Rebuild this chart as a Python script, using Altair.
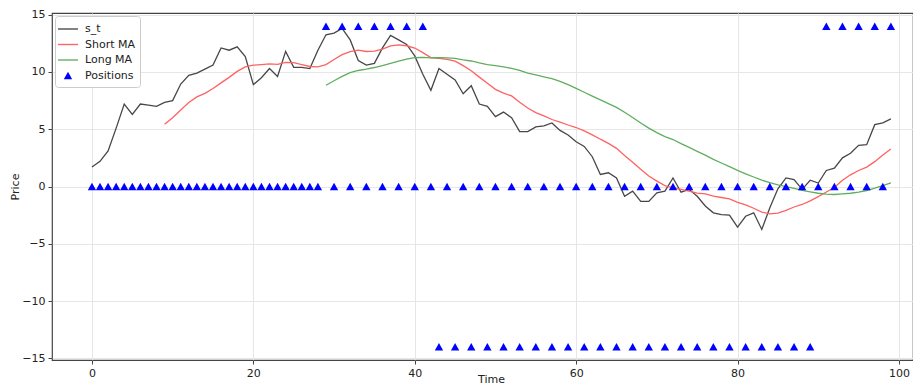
import altair as alt
import pandas as pd

time = list(range(100))

s_t = [1.7, 2.2, 3.1, 5.1, 7.2, 6.3, 7.2, 7.1, 7.0, 7.35,
       7.5, 8.95, 9.7, 9.9, 10.25, 10.6, 12.1, 11.9, 12.2, 11.35,
       8.9, 9.5, 10.3, 9.6, 11.8, 10.4, 10.4, 10.3, 11.9, 13.25,
       13.4, 13.8, 12.8, 11.0, 10.6, 10.75, 12.1, 13.2, 12.8, 12.4,
       11.4, 9.8, 8.4, 10.3, 9.8, 9.3, 8.1, 8.8, 7.2, 7.0,
       6.1, 6.5, 6.0, 4.8, 4.8, 5.2, 5.3, 5.55, 4.9, 4.5,
       3.9, 3.5, 2.6, 1.05, 1.2, 0.75, -0.85, -0.4, -1.3, -1.3,
       -0.55, -0.4, 0.75, -0.5, -0.25, -0.85, -1.7, -2.3, -2.45, -2.5,
       -3.55, -2.6, -2.3, -3.75, -1.85, -0.2, 0.75, 0.6, -0.25, 0.55,
       0.3, 1.4, 1.6, 2.5, 2.9, 3.6, 3.65, 5.4, 5.55, 5.9]

short_ma = [None] * 9 + [
    5.43, 6.01, 6.68, 7.34, 7.82, 8.13, 8.56, 9.05, 9.53, 10.05, 10.45,
    10.59, 10.64, 10.70, 10.67, 10.83, 10.81, 10.64, 10.48, 10.45, 10.64,
    11.09, 11.52, 11.77, 11.91, 11.79, 11.82, 11.99, 12.28, 12.37, 12.29,
    12.09, 11.69, 11.25, 11.18, 11.10, 10.95, 10.55, 10.11, 9.55, 9.01,
    8.48, 8.15, 7.91, 7.36, 6.86, 6.45, 6.17, 5.85, 5.62, 5.37,
    5.15, 4.85, 4.51, 4.13, 3.77, 3.33, 2.71, 2.12, 1.50, 0.92,
    0.47, 0.08, -0.11, -0.26, -0.41, -0.57, -0.65, -0.84, -0.96, -1.08,
    -1.38, -1.60, -1.90, -2.23, -2.39, -2.32, -2.08, -1.79, -1.57, -1.26,
    -0.88, -0.48, -0.09, 0.54, 1.02, 1.40, 1.69, 2.17, 2.75, 3.28]

long_ma = [None] * 29 + [
    8.84, 9.23, 9.61, 9.94, 10.13, 10.25, 10.39, 10.56, 10.76, 10.95, 11.12,
    11.25, 11.28, 11.24, 11.25, 11.24, 11.19, 11.06, 10.96, 10.79, 10.64,
    10.55, 10.45, 10.31, 10.15, 9.91, 9.74, 9.57, 9.41, 9.18, 8.89,
    8.57, 8.23, 7.89, 7.56, 7.24, 6.91, 6.48, 6.02, 5.55, 5.10,
    4.70, 4.36, 4.10, 3.74, 3.41, 3.07, 2.74, 2.37, 2.05, 1.74,
    1.41, 1.11, 0.83, 0.55, 0.33, 0.15, -0.01, -0.17, -0.34, -0.47,
    -0.59, -0.66, -0.70, -0.65, -0.59, -0.50, -0.35, -0.15, 0.08, 0.32]

positions = [0] * 29 + [
    14, 0, 14, 0, 14, 0, 14, 0, 14, 0, 14, 0, 14,
    0, -14, 0, -14, 0, -14, 0, -14, 0, -14, 0, -14, 0, -14, 0, -14,
    0, -14, 0, -14, 0, -14, 0, -14, 0, -14, 0, -14, 0, -14, 0, -14,
    0, -14, 0, -14, 0, -14, 0, -14, 0, -14, 0, -14, 0, -14, 0, -14,
    0, 14, 0, 14, 0, 14, 0, 14, 0, 14]

series_names = ["s_t", "Short MA", "Long MA", "Positions"]
series_colors = ["#474747", "#ff6262", "#5fae5f", "#0000ff"]

rows = []
for name, vals in zip(series_names[:3], [s_t, short_ma, long_ma]):
    for t, v in zip(time, vals):
        if v is not None:
            rows.append({"time": t, "value": v, "series": name})
lines_df = pd.DataFrame(rows)
pos_df = pd.DataFrame({"time": time, "value": positions, "series": "Positions"})

LINE = "M-1.25,-0.085H1.25V0.085H-1.25Z"
TRI = "M0,-0.47L0.52,0.47L-0.52,0.47Z"

FONT = "DejaVu Sans"

x_enc = alt.X("time:Q",
              scale=alt.Scale(domain=[-4.95, 101.74], nice=False, zero=False),
              axis=alt.Axis(values=[0, 20, 40, 60, 80, 100], title="Time",
                            titleX=439, titleY=13, titleBaseline="top"))
y_enc = alt.Y("value:Q",
              scale=alt.Scale(domain=[-15.15, 15.15], nice=False, zero=False),
              axis=alt.Axis(values=[-15, -10, -5, 0, 5, 10, 15], title="Price",
                            titleX=-37, titleY=173.5, titleAngle=-90,
                            titleBaseline="middle", titleAlign="center"))

lines = alt.Chart(lines_df).mark_line(strokeWidth=1.3).encode(
    x=x_enc, y=y_enc,
    color=alt.Color("series:N",
                    scale=alt.Scale(domain=series_names[:3], range=series_colors[:3]),
                    legend=None),
    detail="series:N",
)

legend = alt.Legend(title=None, orient="top-left", offset=3,
                    symbolSize=256, labelOffset=8,
                    padding=4, rowPadding=1.5,
                    fillColor="white", strokeColor="#cccccc",
                    cornerRadius=3, symbolOpacity=1,
                    labelFont=FONT, labelFontSize=11,
                    labelColor="#222222")

points = alt.Chart(pos_df).mark_point(filled=True, size=256, opacity=1).encode(
    x=x_enc, y=y_enc,
    color=alt.Color("series:N",
                    scale=alt.Scale(domain=series_names, range=series_colors),
                    legend=legend),
    shape=alt.Shape("series:N",
                    scale=alt.Scale(domain=series_names, range=[LINE, LINE, LINE, TRI]),
                    legend=legend),
)

chart = alt.layer(lines, points).resolve_scale(
    color="independent", shape="independent"
).properties(
    width=861, height=347,
    autosize=alt.AutoSizeParams(type="none"),
    padding={"left": 44, "top": 5, "right": 0, "bottom": 24},
).configure_view(
    stroke="#444444", strokeWidth=1.2
).configure_axis(
    domain=False, grid=True, gridColor="#e6e6e6", gridWidth=1,
    tickColor="#444444", tickSize=4, tickWidth=1,
    labelFont=FONT, labelFontSize=11, labelColor="#222222", labelPadding=3,
    titleFont=FONT, titleFontSize=11, titleColor="#222222", titleFontWeight="normal",
)

chart.save("out.html", embed_options={"renderer": "svg", "actions": False})
